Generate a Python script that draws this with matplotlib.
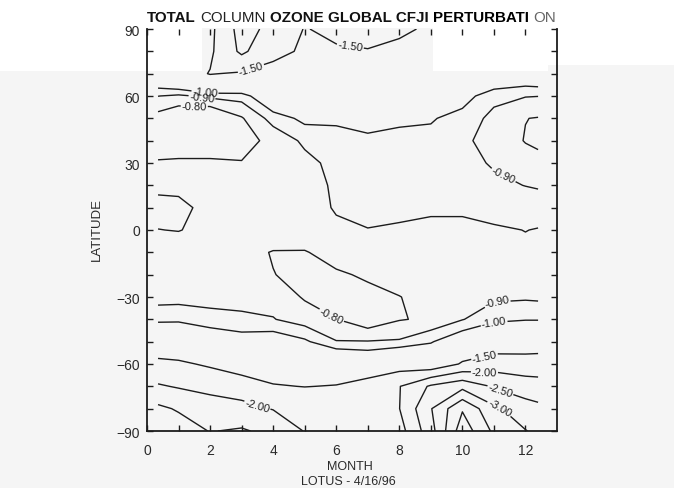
import numpy as np
import matplotlib
matplotlib.use("Agg")
import matplotlib.pyplot as plt
from matplotlib.patches import Rectangle

plt.rcParams['font.family'] = ['Liberation Sans', 'DejaVu Sans']
plt.rcParams['contour.negative_linestyle'] = 'solid'

# ---------------- data ----------------
months = [0.35, 1, 2, 3, 4, 5, 6, 7, 8, 9, 10, 11, 12, 12.4]
latitudes = [-90, -80, -70, -60, -50, -40, -30, -20, -10, 0,
             10, 20, 30, 40, 50, 60, 70, 80, 90]

# total column ozone perturbation (%) per month column, south -> north
m00 = [-2.90, -2.60, -2.05, -1.60, -1.20, -0.97, -0.86, -0.84, -0.83, -0.801,
       -0.78, -0.815, -0.805, -0.77, -0.757, -0.902, -1.18, -1.30, -1.35]
m01 = [-2.75, -2.45, -1.96, -1.57, -1.15, -0.98, -0.86, -0.845, -0.83, -0.798,
       -0.775, -0.825, -0.81, -0.76, -0.70, -0.88, -1.28, -1.40, -1.42]
m02 = [-2.48, -2.28, -1.83, -1.44, -1.10, -0.94, -0.86, -0.845, -0.835, -0.815,
       -0.83, -0.825, -0.81, -0.76, -0.66, -0.925, -1.52, -1.42, -1.38]
m03 = [-2.56, -2.12, -1.80, -1.20, -1.06, -0.92, -0.865, -0.85, -0.83, -0.825,
       -0.83, -0.83, -0.805, -0.76, -0.79, -0.94, -1.45, -2.10, -2.20]
m04 = [-2.35, -1.98, -1.53, -1.25, -1.08, -0.905, -0.86, -0.802, -0.795, -0.86,
       -0.85, -0.84, -0.83, -0.83, -0.94, -1.15, -1.38, -1.60, -1.85]
m05 = [-1.98, -1.85, -1.49, -1.25, -1.02, -0.85, -0.79, -0.78, -0.795, -0.85,
       -0.85, -0.86, -0.87, -0.92, -1.03, -1.20, -1.35, -1.45, -1.48]
m06 = [-1.85, -1.75, -1.52, -1.20, -0.905, -0.802, -0.76, -0.79, -0.83, -0.88,
       -0.91, -0.915, -0.93, -0.96, -1.02, -1.15, -1.30, -1.45, -1.60]
m07 = [-1.95, -1.85, -1.70, -1.15, -0.905, -0.73, -0.78, -0.81, -0.86, -0.895,
       -0.95, -0.96, -0.97, -0.985, -1.03, -1.15, -1.30, -1.48, -1.65]
m08 = [-1.80, -1.99, -1.98, -1.26, -0.912, -0.794, -0.797, -0.85, -0.87, -0.89,
       -0.92, -0.95, -0.96, -0.97, -1.02, -1.12, -1.25, -1.42, -1.56]
m09 = [-2.80, -2.97, -2.57, -1.14, -0.99, -0.815, -0.84, -0.85, -0.86, -0.87,
       -0.92, -0.94, -0.95, -0.97, -1.01, -1.10, -1.20, -1.35, -1.45]
m10 = [-4.30, -3.95, -2.85, -1.55, -1.10, -0.895, -0.85, -0.85, -0.86, -0.87,
       -0.92, -0.93, -0.93, -0.92, -0.96, -1.05, -1.15, -1.30, -1.40]
m11 = [-3.40, -3.10, -2.45, -1.75, -1.20, -0.97, -0.88, -0.86, -0.87, -0.885,
       -0.945, -0.92, -0.89, -0.86, -0.87, -0.93, -1.16, -1.30, -1.40]
m12 = [-3.02, -2.70, -2.25, -1.70, -1.25, -0.99, -0.885, -0.87, -0.88, -0.902,
       -0.95, -0.898, -0.84, -0.795, -0.802, -0.905, -1.12, -1.25, -1.35]
m12b = [-2.90, -2.62, -2.20, -1.72, -1.25, -0.99, -0.88, -0.865, -0.875, -0.895,
        -0.95, -0.89, -0.83, -0.78, -0.795, -0.902, -1.14, -1.25, -1.35]

levels = [-4.0, -3.5, -3.0, -2.5, -2.0, -1.5, -1.0, -0.9, -0.8]

# where the contour labels sit (month, latitude)
label_spots = [(1.85, 63.2), (1.75, 60.3), (1.5, 56.0), (11.35, 26.0),
               (5.8, -40.0), (11.1, -32.0), (11.0, -41.0), (10.7, -56.5),
               (10.7, -64.0), (11.2, -72.0), (11.2, -79.0), (3.5, -78.5),
               (3.3, 72.0), (6.45, 82.5)]

x_tick_labels = ['0', '', '2', '', '4', '', '6', '', '8', '', '10', '', '12']
y_ticks = list(range(-90, 91, 10))
y_tick_labels = ['\u221290', '', '', '\u221260', '', '', '\u221230', '', '', '0',
                 '', '', '30', '', '', '60', '', '', '90']

title_parts = [("TOTAL", "bold", "#111111"), ("COLUMN", "normal", "#222222"),
               ("OZONE GLOBAL CFJI", "bold", "#111111"),
               ("PERTURBATI", "heavy", "#000000"), ("ON", "normal", "#666666")]

# ---------------- figure ----------------
W, H = 674, 489
BG = "#f5f5f5"
INK = "#1c1c1c"
fig = plt.figure(figsize=(W / 100, H / 100), dpi=100)
fig.patch.set_facecolor(BG)


def fr(x0, y0, x1, y1):
    """pixel box (top-left origin) -> figure-fraction rectangle args"""
    return (x0 / W, 1 - y1 / H), (x1 - x0) / W, (y1 - y0) / H


# white paper patches of the scan (behind everything)
for box in [(0, 0, W, 29), (W - 126, 29, W, 66)]:
    xy, w, h = fr(*box)
    fig.add_artist(Rectangle(xy, w, h, transform=fig.transFigure,
                             facecolor="white", edgecolor="none", zorder=-1))

ax = fig.add_axes([147 / W, 57 / H, 410 / W, 402 / H])
ax.set_facecolor("none")
ax.set_axisbelow(False)

Z = np.array([m00, m01, m02, m03, m04, m05, m06, m07, m08, m09, m10, m11, m12, m12b]).T
cs = ax.contour(months, latitudes, Z, levels=levels, colors=INK,
                linewidths=1.0, linestyles='solid')
ax.clabel(cs, manual=label_spots, fmt='%.2f', fontsize=8, inline=True,
          inline_spacing=2, colors=INK)

# white patches that hide parts of the plot in the scan
for box in [(0, 29, 202, 72), (433, 29, 548, 72)]:
    xy, w, h = fr(*box)
    ax.add_artist(Rectangle(xy, w, h, transform=fig.transFigure, clip_on=False,
                            facecolor="white", edgecolor="none", zorder=2.4))

ax.set_xlim(0, 13)
ax.set_ylim(-90, 90)
ax.set_xticks(range(0, 13))
ax.set_xticklabels(x_tick_labels)
ax.set_yticks(y_ticks)
ax.set_yticklabels(y_tick_labels)
ax.tick_params(direction='in', top=True, right=True, length=4, width=1.0,
               colors=INK, labelcolor="#2a2a2a", labelsize=10)
ax.tick_params(axis='x', pad=9)
ax.tick_params(axis='y', pad=5)
for s in ['left', 'right', 'bottom']:
    ax.spines[s].set_linewidth(1.3)
    ax.spines[s].set_color(INK)
ax.spines['top'].set_visible(False)

fig.text(97 / W, 1 - 230 / H, "LATITUDE", rotation=90, ha='center', va='center',
         fontsize=9.5, color="#2a2a2a")
fig.text(350 / W, 1 - 467 / H, "MONTH", ha='center', va='center',
         fontsize=9, color="#2a2a2a")
fig.text(348 / W, 1 - 482 / H, "LOTUS - 4/16/96", ha='center', va='center',
         fontsize=9, color="#2a2a2a")

# title made of pieces in mixed weights, fitted between x=147 and x=555 px
renderer = fig.canvas.get_renderer()
size = 10.0
gap = 4.0
texts = []
x = 147.0
for txt, wt, col in title_parts:
    t = fig.text(x / W, 1 - 22 / H, txt, fontsize=size, fontweight=wt, color=col,
                 ha='left', va='baseline')
    texts.append(t)
    bb = t.get_window_extent(renderer)
    x = bb.x1 + gap
total = x - gap - 147.0
scale = 408.0 / total
x = 147.0
for t in texts:
    t.set_fontsize(size * scale)
    t.set_x(x / W)
    bb = t.get_window_extent(renderer)
    x = bb.x1 + gap * scale

fig.savefig("out.png", dpi=100, facecolor=BG)
